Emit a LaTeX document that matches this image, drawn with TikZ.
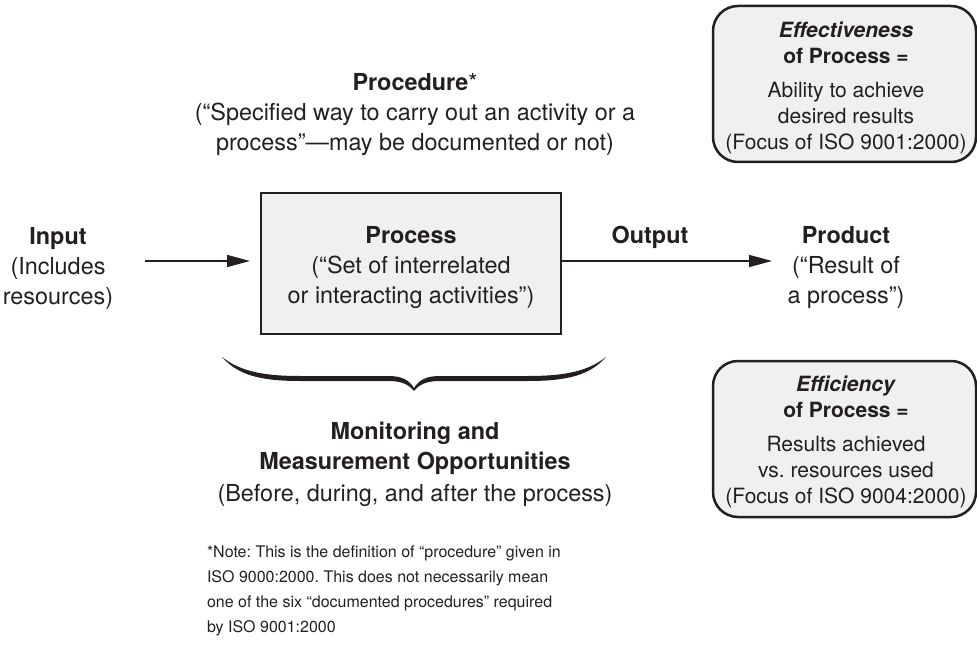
\documentclass[tikz,border=0pt]{standalone}
\usepackage{fontspec}
\setmainfont{TeX Gyre Heros}
\usetikzlibrary{arrows.meta}
\definecolor{ink}{HTML}{231F20}
\definecolor{panel}{HTML}{F0F0F0}
\frenchspacing
\begin{document}
\begin{tikzpicture}[x=1pt,y=-1pt,
  every node/.style={text=ink, inner sep=0pt, outer sep=0pt},
  % multi-line nodes: the base anchor sits on the baseline of the last line
  bigtext/.style={font=\fontsize{23.4}{30}\selectfont, align=center, anchor=base},
  boxtext/.style={font=\fontsize{21}{26}\selectfont, align=center, anchor=base},
  notetext/.style={font=\fontsize{16}{25}\selectfont, align=left, anchor=base west},
  mainbox/.style={draw=ink, line width=2.5pt, fill=panel, anchor=north west},
  infobox/.style={draw=ink, line width=2.5pt, fill=panel, rounded corners=25pt, anchor=north west,
    minimum width=263pt, minimum height=156pt},
  flow/.style={draw=ink, line width=1.5pt, -{Triangle[length=23pt,width=12pt]}}
]
\useasboundingbox (0,0) rectangle (977,652);

% central process block
\node[mainbox, minimum width=300pt, minimum height=141pt] (proc) at (261,193) {};
\node[bigtext] (proctext) at (411,304)
  {\textbf{Process}\\(“Set of interrelated\\or interacting activities”)};

% definition of a procedure
\node[bigtext] (procedure) at (415,151)
  {\textbf{Procedure}*\\(“Specified way to carry out an activity or a\\process”—may be documented or not)};

% input side
\node[bigtext] (input) at (58,305) {\textbf{Input}\\(Includes\\resources)};
\coordinate (instart) at (145,261);
\draw[flow, shorten >=11pt] (instart) -- (instart -| proc.west);

% output side
\node[bigtext] (output) at (650,244) {\textbf{Output}};
\coordinate (outend) at (772,261);
\draw[flow] (outend -| proc.east) -- (outend);
\node[bigtext] (product) at (846,304) {\textbf{Product}\\(“Result of\\a process”)};

% effectiveness and efficiency panels
\node[infobox] (effbox) at (713,6) {};
\node[boxtext] (efftext) at (846,150)
  {\textbf{\textit{Effectiveness}}\\\textbf{of Process =}\\[8pt]Ability to achieve\\desired results\\(Focus of ISO 9001:2000)};
\node[infobox] (ecybox) at (713,361) {};
\node[boxtext] (ecytext) at (846,503)
  {\textbf{\textit{Efficiency}}\\\textbf{of Process =}\\[8pt]Results achieved\\vs. resources used\\(Focus of ISO 9004:2000)};

% brace under the process block
\fill[ink] (222,357)
  .. controls (240,371) and (262,376) .. (300,376) -- (388,376)
  .. controls (402,376) and (409,380) .. (414,388)
  .. controls (419,380) and (426,376) .. (440,376) -- (528,376)
  .. controls (566,376) and (588,371) .. (606,357)
  .. controls (590,375) and (568,381) .. (528,381) -- (440,381)
  .. controls (428,381) and (420,383.5) .. (414,391)
  .. controls (408,383.5) and (400,381) .. (388,381) -- (300,381)
  .. controls (260,381) and (238,375) .. (222,357) -- cycle;

\node[bigtext] (monitor) at (415,501)
  {\textbf{Monitoring and}\\\textbf{Measurement Opportunities}\\[2pt](Before, during, and after the process)};

% footnote
\node[notetext] (note) at (207,632)
  {*Note: This is the definition of “procedure” given in\\ISO 9000:2000. This does not necessarily mean\\one of the six “documented procedures” required\\by ISO 9001:2000};
\end{tikzpicture}
\end{document}
